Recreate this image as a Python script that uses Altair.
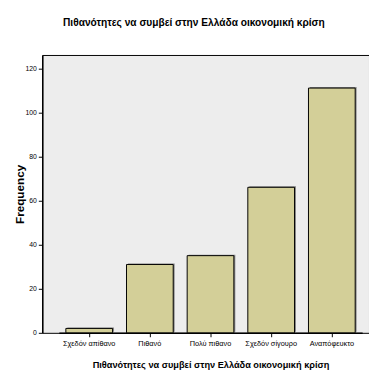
import altair as alt
import pandas as pd

categories = ["Σχεδόν απίθανο", "Πιθανό", "Πολύ πιθανο", "Σχεδόν σίγουρο", "Αναπόφευκτο"]
frequency = [2, 31, 35, 66, 111]
y_ticks = [0, 20, 40, 60, 80, 100, 120]
title_text = "Πιθανότητες να συμβεί στην Ελλάδα οικονομική κρίση"

df = pd.DataFrame({"cat": categories, "freq": frequency})

FONT = "Liberation Sans, Arial"

x_enc = alt.X(
    "cat:N",
    sort=categories,
    scale=alt.Scale(range=[17, 327], paddingInner=0.23, paddingOuter=0.115),
    axis=alt.Axis(
        title=title_text,
        labelAngle=0,
        labelFontSize=7.5,
        labelFont=FONT,
        labelColor="black",
        labelPadding=3,
        tickSize=4,
        tickColor="black",
        domainColor="black",
        domainWidth=1.5,
        titleFont=FONT,
        titleFontSize=9.4,
        titleFontWeight="bold",
        titleColor="black",
        titleBaseline="middle",
        titleY=32,
    ),
)
y_enc = alt.Y(
    "freq:Q",
    scale=alt.Scale(domain=[0, 126], nice=False),
    axis=alt.Axis(
        title="Frequency",
        values=y_ticks,
        labelFontSize=7,
        labelFont=FONT,
        labelColor="black",
        labelPadding=2,
        tickSize=4,
        tickColor="black",
        domainColor="black",
        domainWidth=1.5,
        grid=False,
        titleFont=FONT,
        titleFontSize=12,
        titleFontWeight="bold",
        titleColor="black",
        titleBaseline="middle",
        titleX=-23,
    ),
)

shadow = alt.Chart(df).mark_bar(color="#8a8a8a", xOffset=1.5, yOffset=-1).encode(x=x_enc, y=y_enc)
bars = alt.Chart(df).mark_bar(color="#D3CF98", stroke="black", strokeWidth=1).encode(x=x_enc, y=y_enc)

chart = (
    alt.layer(shadow, bars)
    .properties(
        width=334,
        height=284,
        autosize="none",
        padding={"left": 35, "top": 44, "right": 0, "bottom": 36},
        view=alt.ViewBackground(fill="#EDEDED", stroke="black", strokeWidth=1),
        title=alt.TitleParams(
            text=title_text,
            font=FONT,
            fontSize=10.4,
            fontWeight="bold",
            color="black",
            anchor="middle",
            dx=-12,
            offset=27,
        ),
    )
    .configure(background="white")
)

chart.save("out.html", embed_options={"renderer": "svg", "actions": False})
